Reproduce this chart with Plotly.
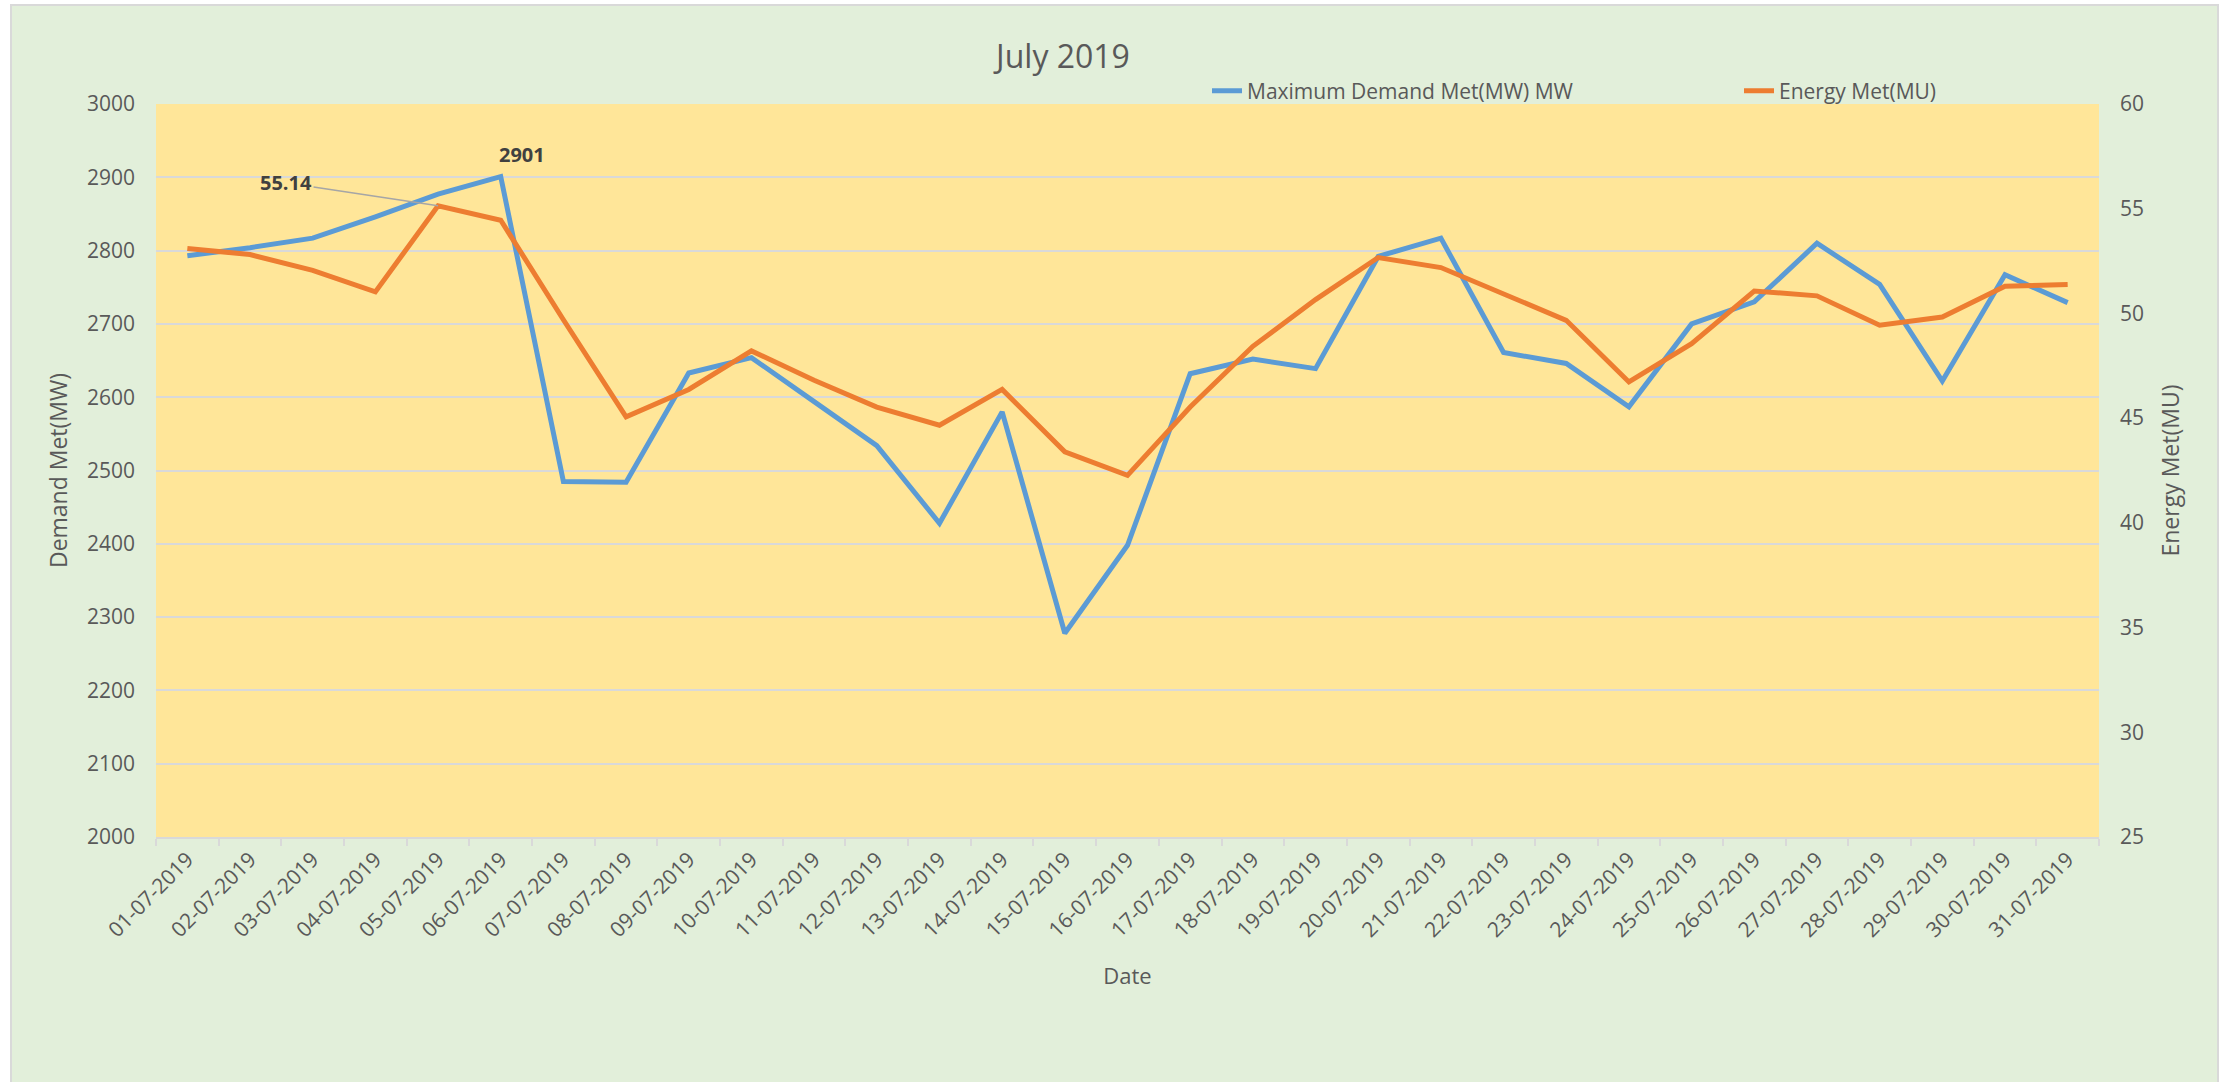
import plotly.graph_objects as go

dates = [f"{d:02d}-07-2019" for d in range(1, 32)]
demand = [2793, 2804, 2817, 2846, 2877, 2901, 2485, 2484, 2633, 2654, 2594, 2534, 2428, 2580,
          2278, 2398, 2632, 2652, 2639, 2792, 2817, 2661, 2646, 2587, 2700, 2730, 2810, 2754,
          2622, 2767, 2729]
energy = [53.10, 52.81, 52.06, 51.03, 55.14, 54.45, 49.70, 45.06, 46.37, 48.21, 46.81, 45.53,
          44.66, 46.37, 43.39, 42.27, 45.53, 48.43, 50.66, 52.67, 52.19, 50.92, 49.67, 46.73,
          48.56, 51.07, 50.84, 49.44, 49.83, 51.30, 51.38]
demand_ticks = list(range(2000, 3001, 100))
energy_ticks = list(range(25, 61, 5))

W, H = 2234, 1082
ML, MR, MT, MB = 156, 135, 104, 245
PW, PH = W - ML - MR, H - MT - MB
GRAY = "#595959"
FONT = "Open Sans"


def px_x(p):
    return (p - ML) / PW


def px_y(p):
    return (H - MB - p) / PH


fig = go.Figure()
fig.add_trace(go.Scatter(x=dates, y=demand, mode="lines", name="Maximum Demand Met(MW) MW",
                         line=dict(color="#5B9BD5", width=5), yaxis="y", legend="legend"))
fig.add_trace(go.Scatter(x=dates, y=energy, mode="lines", name="Energy Met(MU)",
                         line=dict(color="#ED7D31", width=5), yaxis="y2", legend="legend2"))

imax = demand.index(max(demand))
emax = energy.index(max(energy))

legend_common = dict(orientation="h", xanchor="left", xref="paper",
                     yref="container", yanchor="middle",
                     font=dict(family=FONT, size=21, color=GRAY),
                     bgcolor="rgba(0,0,0,0)", borderwidth=0)

fig.update_layout(
    width=W, height=H,
    margin=dict(l=ML, r=MR, t=MT, b=MB, pad=0, autoexpand=False),
    paper_bgcolor="white",
    plot_bgcolor="rgba(0,0,0,0)",
    font=dict(family=FONT, color=GRAY, size=21),
    title=dict(text="July 2019", font=dict(family=FONT, size=32, color=GRAY),
               x=px_x(1063), xref="paper", xanchor="center",
               y=1 - 57 / H, yref="container", yanchor="middle"),
    showlegend=True,
    legend=dict(x=px_x(1207), y=1 - 91 / H, **legend_common),
    legend2=dict(x=px_x(1739), y=1 - 91 / H, **legend_common),
    xaxis=dict(type="category", categoryorder="array", categoryarray=dates,
               tickson="boundaries", ticks="outside", ticklen=7, tickwidth=2,
               tickcolor="#D9D9D9", showline=True, linecolor="#D9D9D9", linewidth=2,
               showgrid=False, tickangle=-45, tickfont=dict(size=21, color=GRAY),
               title=dict(text="Date", font=dict(size=22, color=GRAY), standoff=27),
               automargin=False, range=[-0.5, len(dates) - 0.5]),
    yaxis=dict(range=[2000, 3000], tickvals=demand_ticks, showgrid=True,
               gridcolor="#D9D9D9", gridwidth=2, zeroline=False, showline=False,
               ticks="", ticklabelstandoff=20, tickfont=dict(size=21, color=GRAY),
               title=dict(text="Demand Met(MW)", font=dict(size=23, color=GRAY), standoff=12),
               automargin=False),
    yaxis2=dict(range=[25, 60], tickvals=energy_ticks, overlaying="y", side="right",
                showgrid=False, zeroline=False, showline=False, ticks="",
                ticklabelstandoff=20, tickfont=dict(size=21, color=GRAY),
                title=dict(text="Energy Met(MU)", font=dict(size=23, color=GRAY), standoff=19),
                automargin=False),
    shapes=[
        dict(type="rect", xref="paper", yref="paper", layer="below",
             x0=px_x(11), x1=px_x(2218), y0=px_y(1095), y1=px_y(5),
             fillcolor="#E2EFDA", line=dict(color="#D9D9D9", width=2)),
        dict(type="rect", xref="paper", yref="paper", layer="below",
             x0=0, x1=1, y0=0, y1=1, fillcolor="#FFE699", line=dict(width=0)),
    ],
    annotations=[
        dict(x=dates[imax], y=demand[imax], xref="x", yref="y", text=f"<b>{demand[imax]}</b>",
             showarrow=False, xshift=21, yshift=22, font=dict(size=20, color="#404040")),
        dict(x=dates[emax], y=energy[emax], xref="x", yref="y2", text=f"<b>{energy[emax]:.2f}</b>",
             showarrow=True, arrowhead=0, arrowwidth=1.5, arrowcolor="#A6A6A6",
             ax=-152, ay=-23, axref="pixel", ayref="pixel",
             font=dict(size=20, color="#404040")),
    ],
)

fig.write_html("out.html", config={"displayModeBar": False},
               post_script="document.body.style.margin='0';document.body.style.overflow='hidden';")
